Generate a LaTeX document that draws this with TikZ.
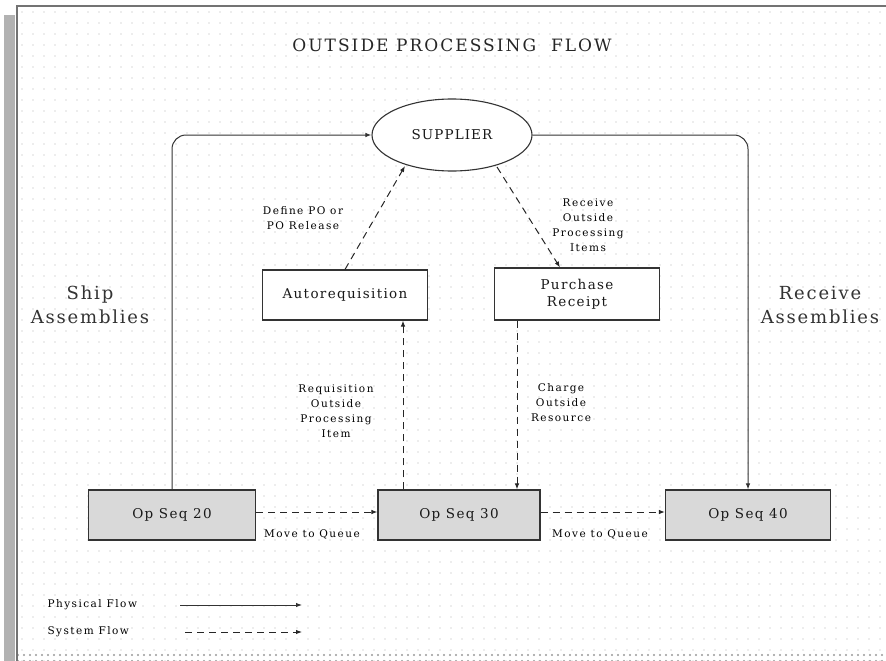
\documentclass[tikz,border=0pt]{standalone}
\usepackage{fontspec}
\setmainfont{DejaVu Serif}
\usetikzlibrary{arrows.meta,patterns.meta,shapes.geometric}
% font helpers: size, leading, letter spacing
\newcommand{\sizedfont}[3]{\fontsize{#1}{#2}\selectfont\addfontfeatures{LetterSpace=#3}}
\begin{document}
\begin{tikzpicture}[x=1pt,y=-1pt,
  box/.style={draw=black!80,line width=1.1pt,fill=white,minimum width=165pt,minimum height=50pt,font=\sizedfont{13.5}{17}{10},align=center,text=black!90},
  opbox/.style={box,fill=black!15,minimum width=167pt,minimum height=50pt},
  phys/.style={draw=black!80,line width=1pt,-{Latex[length=6pt,width=4.5pt]},rounded corners=14pt},
  sys/.style={draw=black!85,line width=1pt,dash pattern=on 7pt off 5pt,-{Latex[length=6pt,width=4.5pt]}},
  lbl/.style={font=\sizedfont{10.5}{15}{14},align=center,text=black},
  side/.style={font=\sizedfont{18}{24}{10},align=center,text=black!80}]
\useasboundingbox (0,0) rectangle (886,661);
% sheet background with dot texture
\fill[white] (0,0) rectangle (886,661);
\fill[pattern={Dots[distance=11pt,radius=0.7pt]},pattern color=black!30] (17,7) rectangle (886,661);
\fill[pattern={Dots[distance=6pt,radius=1.2pt]},pattern color=black!40] (17,650) rectangle (886,661);
% frame edges
\fill[black!30] (4,15) rectangle (15,661);
\draw[black!55,line width=1.2pt] (17,661) -- (17,6) -- (886,6);
% title
\node[font=\sizedfont{17}{20}{12},text=black!85] (title) at (452,45) {OUTSIDE PROCESSING\ \ FLOW};
% nodes
\node[ellipse,draw=black!80,line width=1.1pt,fill=white,minimum width=160pt,minimum height=72pt,font=\sizedfont{13.5}{17}{8},text=black!90] (sup) at (452,135) {SUPPLIER};
\node[box] (auto) at (345,295) {Autorequisition};
\node[box,minimum height=52pt] (rcpt) at (577,294) {Purchase\\Receipt};
\node[opbox] (op20) at (172,515) {Op Seq 20};
\node[opbox,minimum width=162pt] (op30) at (459,515) {Op Seq 30};
\node[opbox,minimum width=165pt] (op40) at (748,515) {Op Seq 40};
% physical flow
\draw[phys] (op20.north) |- (sup.west);
\draw[phys] (sup.east) -| (op40.north);
% system flow
\coordinate (supsw) at (405,166);
\coordinate (supse) at (497,167);
\draw[sys] (auto.north) -- (supsw);
\draw[sys] (supse) -- (rcpt.north -| 560,0);
\draw[sys] (op30.north -| 403,0) -- (auto.south -| 403,0);
\draw[sys] (rcpt.south -| 517,0) -- (op30.north -| 517,0);
\draw[sys] ([yshift=3pt]op20.east) -- ([yshift=3pt]op30.west);
\draw[sys] ([yshift=3pt]op30.east) -- ([yshift=3pt]op40.west);
% flow labels
\node[lbl] (l1) at (303,218) {Define PO or\\PO Release};
\node[lbl] (l2) at (588,225) {Receive\\Outside\\Processing\\Items};
\node[lbl] (l3) at (336,411) {Requisition\\Outside\\Processing\\Item};
\node[lbl] (l4) at (561,403) {Charge\\Outside\\Resource};
\node[lbl] (l5) at (312,534) {Move to Queue};
\node[lbl] (l6) at (600,534) {Move to Queue};
\node[side] (ship) at (90,305) {Ship\\Assemblies};
\node[side] (recv) at (820,305) {Receive\\Assemblies};
% legend
\node[lbl,anchor=west] (lgp) at (44,605) {Physical Flow};
\node[lbl,anchor=west] (lgs) at (44,632) {System Flow};
\coordinate (p1) at (180,605);
\coordinate (p2) at (302,605);
\coordinate (s1) at (185,632);
\coordinate (s2) at (302,632);
\draw[phys] (p1) -- (p2);
\draw[sys] (s1) -- (s2);
\end{tikzpicture}
\end{document}
